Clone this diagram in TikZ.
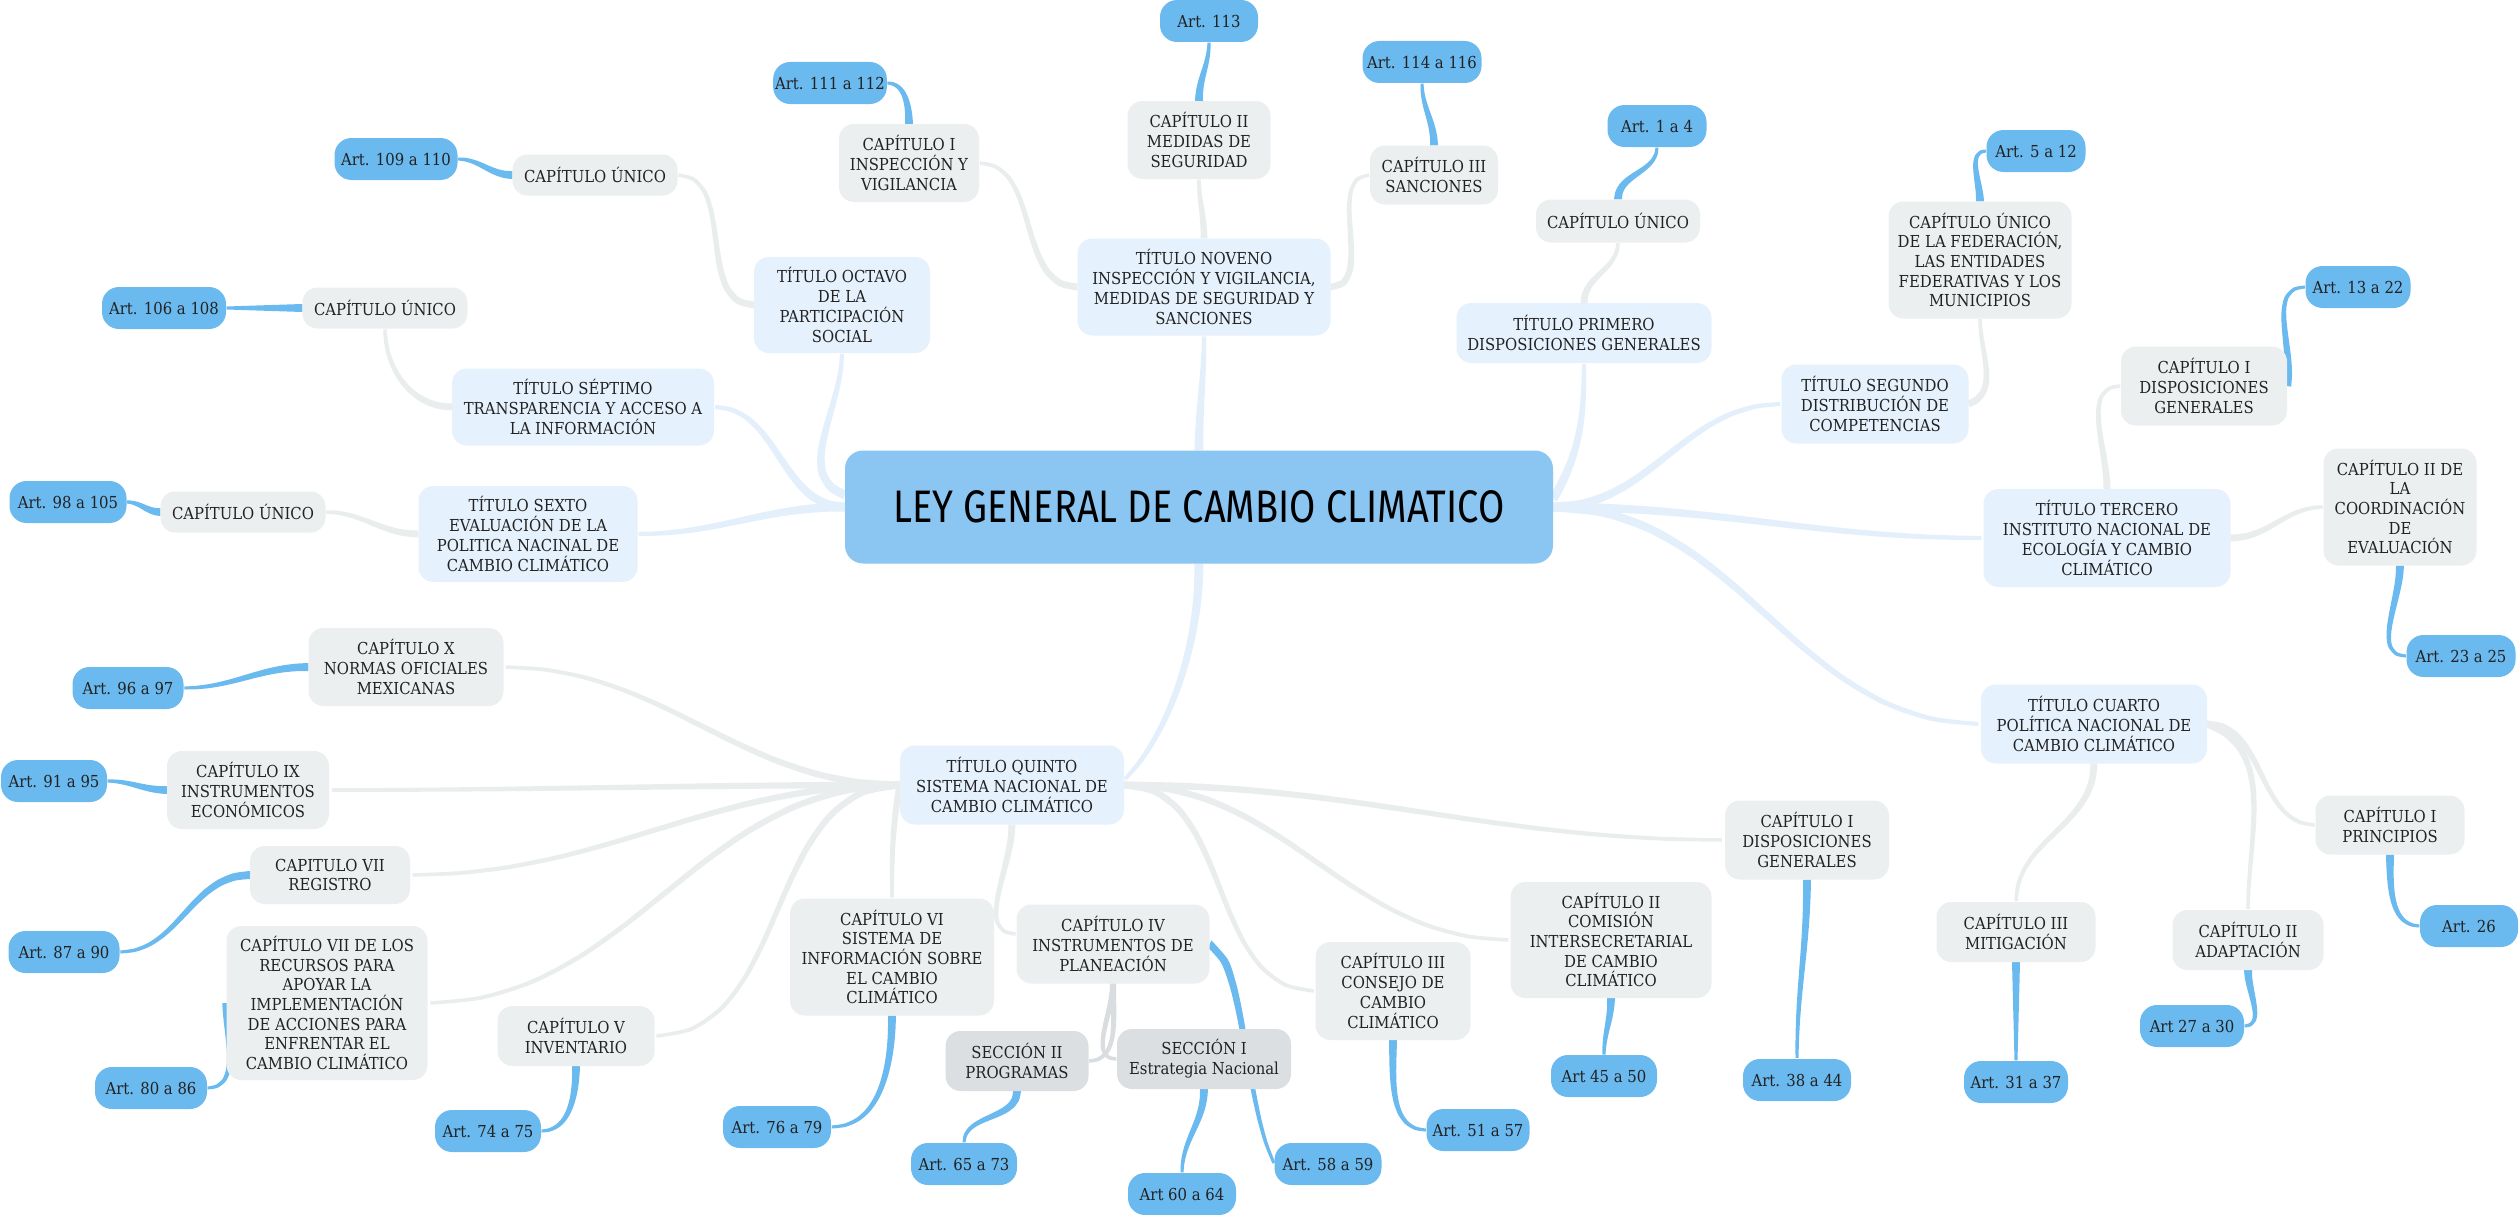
\documentclass[tikz,border=0pt]{standalone}
\usepackage{fontspec}
\usepackage{graphicx}
\setmainfont{DejaVu Serif Condensed}
\newfontfamily\rootfont{Fira Sans}
\usetikzlibrary{calc,backgrounds,decorations.markings}
\definecolor{rootfill}{HTML}{8BC5F2}
\definecolor{artfill}{HTML}{6AB9EF}
\definecolor{titfill}{HTML}{E5F1FC}
\definecolor{capfill}{HTML}{ECEFF0}
\definecolor{secfill}{HTML}{DCDFE2}
\definecolor{rootline}{HTML}{E3EFFB}
\definecolor{capline}{HTML}{EAEDEE}
\definecolor{secline}{HTML}{DADDE0}
\definecolor{artline}{HTML}{6AB9EF}
\definecolor{txt}{HTML}{222222}
\newcommand\tpc[1]{\pgfmathsetmacro\tpw{0.5*(\tpws+(\tpwe-\tpws)*#1/10)}%
  \coordinate (tpL#1) at (0pt,\tpw pt); \coordinate (tpR#1) at (0pt,-\tpw pt);}
\newcommand\tcon[4]{\def\tpws{#2}\def\tpwe{#3}%
  \path[tpdeco] #4;
  \fill[#1] plot[smooth] coordinates {(tpL0)(tpL1)(tpL2)(tpL3)(tpL4)(tpL5)(tpL6)(tpL7)(tpL8)(tpL9)(tpL10)}
    -- plot[smooth] coordinates {(tpR10)(tpR9)(tpR8)(tpR7)(tpR6)(tpR5)(tpR4)(tpR3)(tpR2)(tpR1)(tpR0)} -- cycle;}
\newcommand\rcon[1]{\tcon{rootline}{9}{4}{#1}}
\newcommand\gcon[1]{\tcon{capline}{7}{3.5}{#1}}
\newcommand\scon[1]{\tcon{secline}{6}{3.5}{#1}}
\newcommand\acon[1]{\tcon{artline}{8}{3}{#1}}
\tikzset{
  box/.style={rounded corners=15, inner sep=2, align=center, text=txt,
    font=\fontsize{16.5}{19.7}\selectfont},
  sz/.style 2 args={minimum width=#1, minimum height=#2},
  tit/.style={box, fill=titfill},
  capb/.style={box, fill=capfill},
  secb/.style={box, fill=secfill},
  artb/.style={box, fill=artfill, minimum height=42, rounded corners=17},
  rootb/.style={fill=rootfill, rounded corners=18, inner sep=0, text=black},
  tpdeco/.style={decoration={markings,
    mark=at position 0 with {\tpc{0}},
    mark=at position 0.1 with {\tpc{1}},
    mark=at position 0.2 with {\tpc{2}},
    mark=at position 0.3 with {\tpc{3}},
    mark=at position 0.4 with {\tpc{4}},
    mark=at position 0.5 with {\tpc{5}},
    mark=at position 0.6 with {\tpc{6}},
    mark=at position 0.7 with {\tpc{7}},
    mark=at position 0.8 with {\tpc{8}},
    mark=at position 0.9 with {\tpc{9}},
    mark=at position 0.995 with {\tpc{10}}}, decorate},
}
\begin{document}
\begin{tikzpicture}[x=1pt,y=-1pt]
\useasboundingbox (0,0) rectangle (2520,1215);

% root
\node[rootb, sz={708}{113}] (root) at (1199,507)
  {\scalebox{1}[1.2]{\rootfont\fontsize{38}{40}\selectfont LEY GENERAL DE CAMBIO CLIMATICO}};

% titulos
\node[tit, sz={255}{60}] (t1) at (1584,333) {TÍTULO PRIMERO\\DISPOSICIONES GENERALES};
\node[tit, sz={187}{79}] (t2) at (1875,404) {TÍTULO SEGUNDO\\DISTRIBUCIÓN DE\\COMPETENCIAS};
\node[tit, sz={247}{98}] (t3) at (2107,538) {TÍTULO TERCERO\\INSTITUTO NACIONAL DE\\ECOLOGÍA Y CAMBIO\\CLIMÁTICO};
\node[tit, sz={226}{79}] (t4) at (2094,724) {TÍTULO CUARTO\\POLÍTICA NACIONAL DE\\CAMBIO CLIMÁTICO};
\node[tit, sz={224}{79}] (t5) at (1012,785) {TÍTULO QUINTO\\SISTEMA NACIONAL DE\\CAMBIO CLIMÁTICO};
\node[tit, sz={219}{96}] (t6) at (528,534) {TÍTULO SEXTO\\EVALUACIÓN DE LA\\POLITICA NACINAL DE\\CAMBIO CLIMÁTICO};
\node[tit, sz={262}{77}] (t7) at (583,407) {TÍTULO SÉPTIMO\\TRANSPARENCIA Y ACCESO A\\LA INFORMACIÓN};
\node[tit, sz={176}{96}] (t8) at (842,305) {TÍTULO OCTAVO\\DE LA\\PARTICIPACIÓN\\SOCIAL};
\node[tit, sz={253}{97}] (t9) at (1204,287) {TÍTULO NOVENO\\INSPECCIÓN Y VIGILANCIA,\\MEDIDAS DE SEGURIDAD Y\\SANCIONES};

% capitulos
\node[capb, sz={164}{43}] (c1u) at (1618,221) {CAPÍTULO ÚNICO};
\node[capb, sz={183}{117}] (c2u) at (1980,260) {CAPÍTULO ÚNICO\\DE LA FEDERACIÓN,\\LAS ENTIDADES\\FEDERATIVAS Y LOS\\MUNICIPIOS};
\node[capb, sz={166}{79}] (c3a) at (2204,386) {CAPÍTULO I\\DISPOSICIONES\\GENERALES};
\node[capb, sz={153}{117}] (c3b) at (2400,507) {CAPÍTULO II DE\\LA\\COORDINACIÓN\\DE\\EVALUACIÓN};
\node[capb, sz={149}{59}] (c4a) at (2390,825) {CAPÍTULO I\\PRINCIPIOS};
\node[capb, sz={151}{60}] (c4b) at (2248,940) {CAPÍTULO II\\ADAPTACIÓN};
\node[capb, sz={159}{60}] (c4c) at (2016,932) {CAPÍTULO III\\MITIGACIÓN};
\node[capb, sz={164}{79}] (c5a) at (1807,840) {CAPÍTULO I\\DISPOSICIONES\\GENERALES};
\node[capb, sz={201}{116}] (c5b) at (1611,940) {CAPÍTULO II\\COMISIÓN\\INTERSECRETARIAL\\DE CAMBIO\\CLIMÁTICO};
\node[capb, sz={155}{98}] (c5c) at (1393,991) {CAPÍTULO III\\CONSEJO DE\\CAMBIO\\CLIMÁTICO};
\node[capb, sz={193}{79}] (c5d) at (1113,944) {CAPÍTULO IV\\INSTRUMENTOS DE\\PLANEACIÓN};
\node[capb, sz={157}{60}] (c5e) at (576,1036) {CAPÍTULO V\\INVENTARIO};
\node[capb, sz={204}{117}] (c5f) at (892,957) {CAPÍTULO VI\\SISTEMA DE\\INFORMACIÓN SOBRE\\EL CAMBIO\\CLIMÁTICO};
\node[capb, sz={201}{154}] (c5g) at (327,1003) {CAPÍTULO VII DE LOS\\RECURSOS PARA\\APOYAR LA\\IMPLEMENTACIÓN\\DE ACCIONES PARA\\ENFRENTAR EL\\CAMBIO CLIMÁTICO};
\node[capb, sz={160}{58}] (c5h) at (330,875) {CAPITULO VII\\REGISTRO};
\node[capb, sz={162}{78}] (c5i) at (248,790) {CAPÍTULO IX\\INSTRUMENTOS\\ECONÓMICOS};
\node[capb, sz={195}{78}] (c5j) at (406,667) {CAPÍTULO X\\NORMAS OFICIALES\\MEXICANAS};
\node[capb, sz={165}{41}] (c6u) at (243,512) {CAPÍTULO ÚNICO};
\node[capb, sz={165}{41}] (c7u) at (385,308) {CAPÍTULO ÚNICO};
\node[capb, sz={165}{41}] (c8u) at (595,175) {CAPÍTULO ÚNICO};
\node[capb, sz={140}{78}] (c9a) at (909,163) {CAPÍTULO I\\INSPECCIÓN Y\\VIGILANCIA};
\node[capb, sz={143}{78}] (c9b) at (1199,140) {CAPÍTULO II\\MEDIDAS DE\\SEGURIDAD};
\node[capb, sz={128}{59}] (c9c) at (1434,175) {CAPÍTULO III\\SANCIONES};

% secciones
\node[secb, sz={143}{60}] (s2) at (1017,1061) {SECCIÓN II\\PROGRAMAS};
\node[secb, sz={174}{60}] (s1) at (1204,1059) {SECCIÓN I\\Estrategia Nacional};

% articulos
\node[artb, minimum width=99] (a1) at (1657,126) {Art. 1 a 4};
\node[artb, minimum width=99] (a5) at (2036,151) {Art. 5 a 12};
\node[artb, minimum width=105] (a13) at (2358,287) {Art. 13 a 22};
\node[artb, minimum width=109] (a23) at (2461,656) {Art. 23 a 25};
\node[artb, minimum width=98] (a26) at (2469,926) {Art. 26};
\node[artb, minimum width=104] (a27) at (2192,1026) {Art 27 a 30};
\node[artb, minimum width=104] (a31) at (2016,1082) {Art. 31 a 37};
\node[artb, minimum width=108] (a38) at (1797,1080) {Art. 38 a 44};
\node[artb, minimum width=106] (a45) at (1604,1076) {Art 45 a 50};
\node[artb, minimum width=103] (a51) at (1478,1130) {Art. 51 a 57};
\node[artb, minimum width=107] (a58) at (1328,1164) {Art. 58 a 59};
\node[artb, minimum width=108] (a60) at (1182,1194) {Art 60 a 64};
\node[artb, minimum width=106] (a65) at (964,1164) {Art. 65 a 73};
\node[artb, minimum width=108] (a76) at (777,1127) {Art. 76 a 79};
\node[artb, minimum width=106] (a74) at (488,1131) {Art. 74 a 75};
\node[artb, minimum width=112] (a80) at (151,1088) {Art. 80 a 86};
\node[artb, minimum width=111] (a87) at (64,952) {Art. 87 a 90};
\node[artb, minimum width=106] (a91) at (54,781) {Art. 91 a 95};
\node[artb, minimum width=111] (a96) at (128,688) {Art. 96 a 97};
\node[artb, minimum width=117] (a98) at (68,502) {Art. 98 a 105};
\node[artb, minimum width=124] (a106) at (164,308) {Art. 106 a 108};
\node[artb, minimum width=123] (a109) at (396,159) {Art. 109 a 110};
\node[artb, minimum width=110] (a111) at (830,83) {Art. 111 a 112};
\node[artb, minimum width=98] (a113) at (1209,21) {Art. 113};
\node[artb, minimum width=119] (a114) at (1422,62) {Art. 114 a 116};

\begin{scope}[on background layer]
\fill[white] (0,0) rectangle (2520,1215);
% root -> titulos
\rcon{($(root.west)+(0,-12)$) to[out=160,in=-90] (t8.south)}
\rcon{(root.west) to[out=180,in=0] (t7.east)}
\rcon{(root.west) to[out=180,in=0] (t6.east)}
\rcon{(root.north) to[out=90,in=-90] (t9.south)}
\rcon{($(root.east)+(0,-8)$) to[out=60,in=-90] (t1.south)}
\rcon{(root.east) to[out=0,in=180] (t2.west)}
\rcon{(root.east) to[out=0,in=180] (t3.west)}
\rcon{(root.east) to[out=0,in=180] (t4.west)}
\rcon{(root.south) .. controls +(0,96) and +(36,-35) .. ($(t5.east)+(0,-5)$)}
% titulos -> capitulos
\gcon{(t8.west) to[out=180,in=0] (c8u.east)}
\gcon{(t7.west) to[out=180,in=-90] (c7u.south)}
\gcon{(t6.west) to[out=180,in=0] (c6u.east)}
\gcon{(t9.west) to[out=180,in=0] (c9a.east)}
\gcon{(t9.north) to[out=90,in=-90] (c9b.south)}
\gcon{(t9.east) to[out=0,in=180] (c9c.west)}
\gcon{(t1.north) to[out=90,in=-90] (c1u.south)}
\gcon{(t2.east) to[out=20,in=-90] (c2u.south)}
\gcon{(t3.north) to[out=90,in=180] (c3a.west)}
\gcon{(t3.east) to[out=0,in=180] (c3b.west)}
\gcon{(t4.east) to[out=0,in=180] (c4a.west)}
\gcon{(t4.east) to[out=-20,in=90] (c4b.north)}
\gcon{(t4.south) to[out=-90,in=90] (c4c.north)}
\gcon{(t5.east) to[out=0,in=180] (c5a.west)}
\gcon{(t5.east) to[out=0,in=180] (c5b.west)}
\gcon{(t5.east) to[out=0,in=180] (c5c.west)}
\gcon{(t5.south) to[out=-90,in=180] ($(c5d.west)+(0,-10)$)}
\gcon{(t5.west) to[out=-100,in=90] (c5f.north)}
\gcon{(t5.west) to[out=180,in=0] (c5e.east)}
\gcon{(t5.west) to[out=180,in=0] (c5g.east)}
\gcon{(t5.west) to[out=180,in=0] (c5h.east)}
\gcon{(t5.west) to[out=180,in=0] (c5i.east)}
\gcon{(t5.west) to[out=180,in=0] (c5j.east)}
% capitulo IV -> secciones
\scon{(c5d.south) to[out=-90,in=0] (s2.east)}
\scon{(c5d.south) to[out=-90,in=180] (s1.west)}
% -> articulos
\acon{(c1u.north) to[out=90,in=-90] (a1.south)}
\acon{(c2u.north) to[out=90,in=180] (a5.west)}
\acon{(c3a.east) to[out=80,in=180] (a13.west)}
\acon{(c3b.south) to[out=-90,in=180] (a23.west)}
\acon{(c4a.south) to[out=-90,in=180] (a26.west)}
\acon{(c4b.south) to[out=-90,in=0] (a27.east)}
\acon{(c4c.south) to[out=-90,in=90] (a31.north)}
\acon{(c5a.south) to[out=-90,in=90] (a38.north)}
\acon{(c5b.south) to[out=-90,in=90] (a45.north)}
\acon{(c5c.south) to[out=-90,in=180] (a51.west)}
\acon{(c5d.east) .. controls +(35,15) and +(-30,-60) .. (a58.west)}
\acon{(s1.south) to[out=-90,in=90] (a60.north)}
\acon{(s2.south) to[out=-90,in=90] (a65.north)}
\acon{(c5f.south) to[out=-90,in=0] (a76.east)}
\acon{(c5e.south) to[out=-90,in=0] (a74.east)}
\acon{(c5g.west) to[out=-90,in=0] (a80.east)}
\acon{(c5h.west) to[out=180,in=0] (a87.east)}
\acon{(c5i.west) to[out=180,in=0] (a91.east)}
\acon{(c5j.west) to[out=180,in=0] (a96.east)}
\acon{(c6u.west) to[out=180,in=0] (a98.east)}
\acon{(c7u.west) to[out=180,in=0] (a106.east)}
\acon{(c8u.west) to[out=180,in=0] (a109.east)}
\acon{(c9a.north) to[out=90,in=0] (a111.east)}
\acon{(c9b.north) to[out=90,in=-90] (a113.south)}
\acon{(c9c.north) to[out=90,in=-90] (a114.south)}
\end{scope}
\end{tikzpicture}
\end{document}
